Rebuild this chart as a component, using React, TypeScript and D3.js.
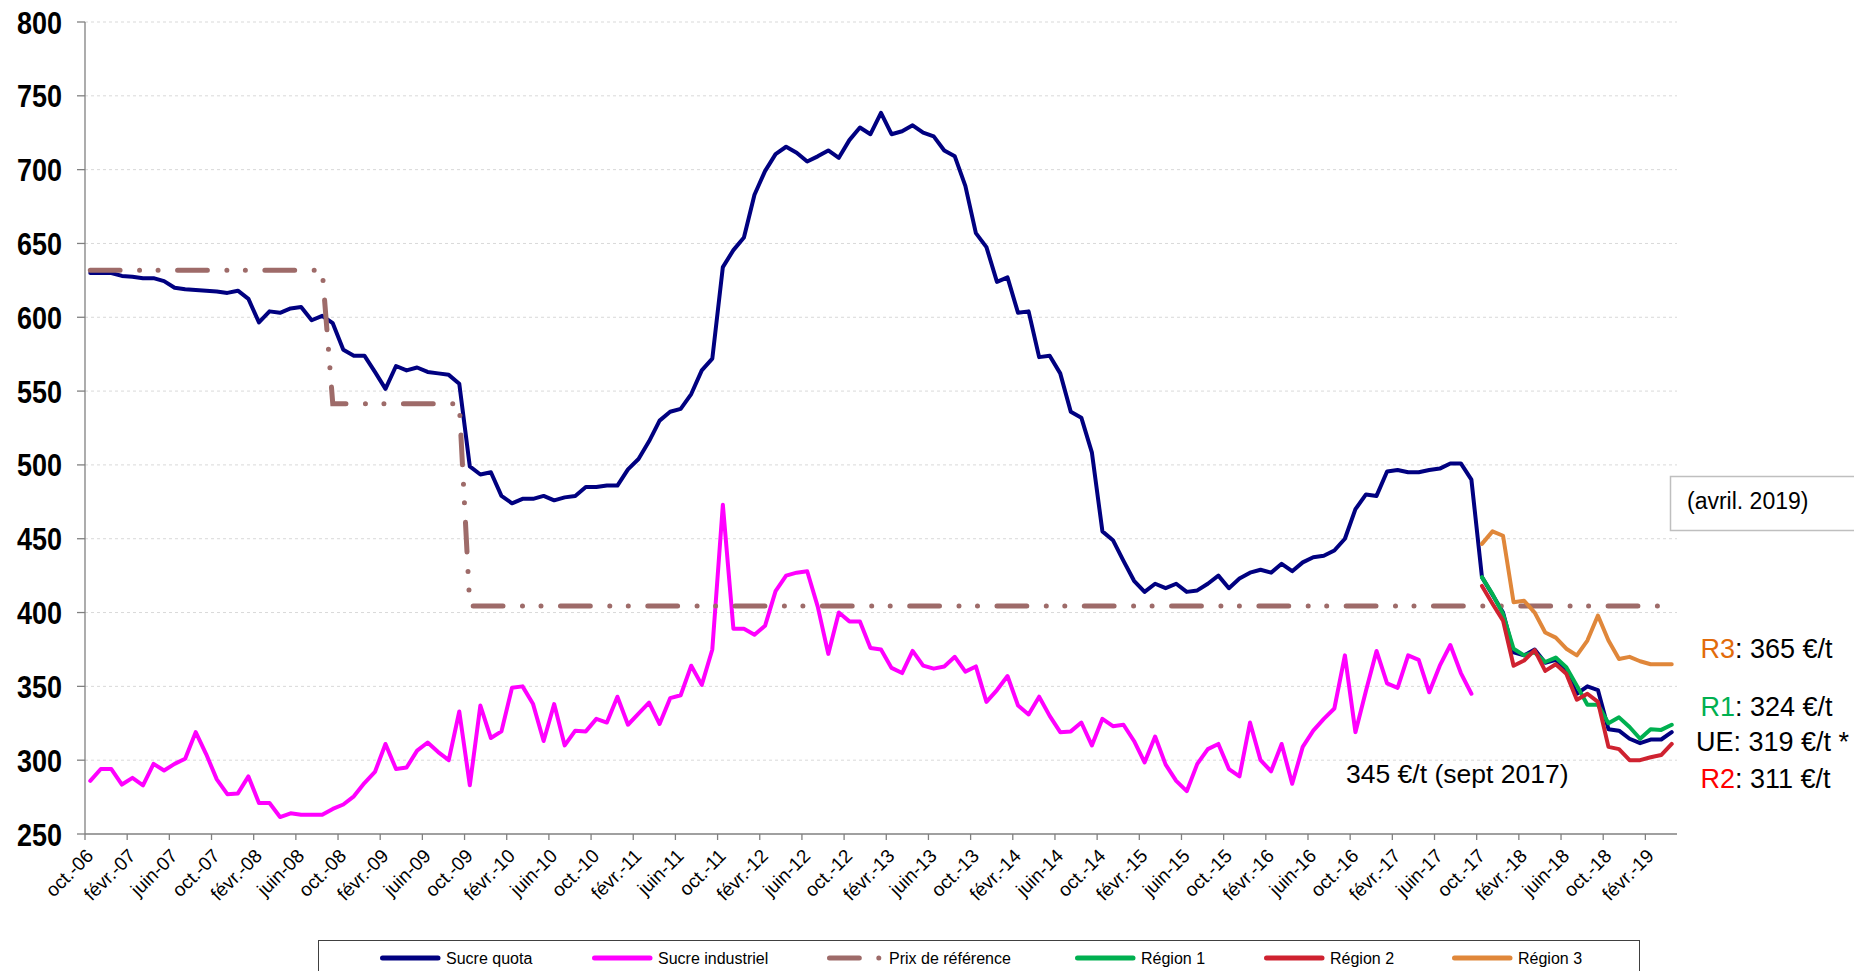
import React from 'react';
import * as d3 from 'd3';

const W = 1854;
const H = 971;

// ---- Categories (monthly, oct. 2006 -> avr. 2019) ----
const monthNames = ['janv.', 'févr.', 'mars', 'avr.', 'mai', 'juin', 'juil.', 'août', 'sept.', 'oct.', 'nov.', 'déc.'];
const firstMonth = { year: 2006, month: 9 }; // oct. 2006
const monthCount = 151; // up to avr. 2019
const categories: string[] = [];
for (let k = 0; k < monthCount; k++) {
  const m = (firstMonth.month + k) % 12;
  const yy = firstMonth.year + Math.floor((firstMonth.month + k) / 12);
  categories.push(`${monthNames[m]}-${String(yy).slice(2)}`);
}

const tickLabels = ['oct.-06', 'févr.-07', 'juin-07', 'oct.-07', 'févr.-08', 'juin-08', 'oct.-08', 'févr.-09', 'juin-09', 'oct.-09', 'févr.-10', 'juin-10', 'oct.-10', 'févr.-11', 'juin-11', 'oct.-11', 'févr.-12', 'juin-12', 'oct.-12', 'févr.-13', 'juin-13', 'oct.-13', 'févr.-14', 'juin-14', 'oct.-14', 'févr.-15', 'juin-15', 'oct.-15', 'févr.-16', 'juin-16', 'oct.-16', 'févr.-17', 'juin-17', 'oct.-17', 'févr.-18', 'juin-18', 'oct.-18', 'févr.-19'];
const yTickValues = [250, 300, 350, 400, 450, 500, 550, 600, 650, 700, 750, 800];

// ---- Series (€/t) ----
const sucreQuota = [
  630, 630, 630, 628, 627.5, 626.5, 626.5, 624.5, 620, 619,
  618.5, 618, 617.5, 616.5, 618, 612.5, 596.5, 604, 603, 606,
  607, 598, 601, 596, 578, 574, 574, 563, 551.5, 567,
  564, 566, 563, 562, 561, 555, 499, 493.5, 495, 479,
  474, 477, 477, 479, 476, 478, 479, 485, 485, 486,
  486, 497, 504, 516, 530, 536, 538, 548, 564, 572,
  634, 645.5, 654, 683, 699, 710.5, 715.5, 711.5, 705.5, 709,
  713, 708, 720, 728.5, 724, 738.5, 724, 726, 730, 725,
  722.5, 713, 709, 689, 657, 647.5, 624, 627, 603, 604,
  573, 574, 562, 536, 532, 508.5, 455, 449, 435, 421.5,
  414, 419.5, 416.5, 419.5, 414, 415, 419.5, 425, 416.5, 423,
  427, 429, 427, 433, 428, 434, 437.5, 438.5, 442, 450,
  470, 480, 479, 495.5, 496.5, 495, 495, 496.5, 497.5, 501,
  501, 490, 424, 412, 400, 373, 371, 375, 366, 368,
  360, 345, 350, 347.5, 321, 320, 314.5, 311.5, 314, 314,
  319,
];

const sucreIndustriel = [
  286, 294, 294, 283.5, 288, 283, 297.5, 293, 297.5, 301,
  319, 304, 287, 277, 277.5, 289, 271, 271, 261.5, 264,
  263, 263, 263, 267, 270, 275.5, 284.5, 292, 311, 294,
  295, 306.5, 312, 305.5, 300, 333, 283, 337, 315, 319.5,
  349, 350, 338, 313, 338, 310, 320, 319.5, 328, 325.5,
  343, 324, 331.5, 339, 324.5, 342, 344, 364, 351, 375,
  473, 389, 389, 385, 391, 414.5, 425, 427, 428, 404,
  372, 400, 394, 394, 376, 375, 362.5, 359, 374, 364,
  362, 363.5, 370, 360, 363.5, 339.5, 347.5, 357, 337, 331,
  343, 330, 319, 319.5, 325.5, 310, 328, 323, 324, 313,
  298.5, 316, 297, 286, 279, 297.5, 307.5, 311, 294, 289,
  325.5, 300, 292.5, 311, 284, 309, 320, 328, 335, 371,
  319, 347, 374, 352, 349, 371, 368, 346, 364, 378,
  359, 345,
];

const prixReference = [
  631.9, 631.9, 631.9, 631.9, 631.9, 631.9, 631.9, 631.9, 631.9, 631.9,
  631.9, 631.9, 631.9, 631.9, 631.9, 631.9, 631.9, 631.9, 631.9, 631.9,
  631.9, 631.9, 631.9, 541.5, 541.5, 541.5, 541.5, 541.5, 541.5, 541.5,
  541.5, 541.5, 541.5, 541.5, 541.5, 541.5, 404.4, 404.4, 404.4, 404.4,
  404.4, 404.4, 404.4, 404.4, 404.4, 404.4, 404.4, 404.4, 404.4, 404.4,
  404.4, 404.4, 404.4, 404.4, 404.4, 404.4, 404.4, 404.4, 404.4, 404.4,
  404.4, 404.4, 404.4, 404.4, 404.4, 404.4, 404.4, 404.4, 404.4, 404.4,
  404.4, 404.4, 404.4, 404.4, 404.4, 404.4, 404.4, 404.4, 404.4, 404.4,
  404.4, 404.4, 404.4, 404.4, 404.4, 404.4, 404.4, 404.4, 404.4, 404.4,
  404.4, 404.4, 404.4, 404.4, 404.4, 404.4, 404.4, 404.4, 404.4, 404.4,
  404.4, 404.4, 404.4, 404.4, 404.4, 404.4, 404.4, 404.4, 404.4, 404.4,
  404.4, 404.4, 404.4, 404.4, 404.4, 404.4, 404.4, 404.4, 404.4, 404.4,
  404.4, 404.4, 404.4, 404.4, 404.4, 404.4, 404.4, 404.4, 404.4, 404.4,
  404.4, 404.4, 404.4, 404.4, 404.4, 404.4, 404.4, 404.4, 404.4, 404.4,
  404.4, 404.4, 404.4, 404.4, 404.4, 404.4, 404.4, 404.4, 404.4, 404.4,
  404.4,
];

// regional series start in oct. 2017
const regionStart = 'oct.-17';
const region1 = [424, 412.5, 399, 375.5, 371, 373, 366.5, 369.5, 363, 350.5, 337.5, 337.5, 325, 329, 322.5, 314.5, 321, 320.5, 324];
const region2 = [418, 406, 394.5, 364, 367.5, 374.5, 360.5, 365, 358.5, 341, 345, 339.5, 309, 307.5, 300, 300, 302, 303.5, 311];
const region3 = [446.5, 455, 452, 407, 408, 400, 386.5, 383, 375.5, 371, 381, 398, 381, 368.5, 370, 367, 365, 365, 365];

// ---- Styles ----
const FONT = '"Liberation Sans", Arial, sans-serif';
const C_QUOTA = '#000080';
const C_INDUS = '#FF00FF';
const C_PRIX = '#9E6B69';
const C_R1 = '#00B050';
const C_R2 = '#CF2230';
const C_R3 = '#E0873A';
const PRIX_DASH = '29.8 19.5 0 18.5 0 19.5';

const plot = { left: 85, right: 1677, top: 22, bottom: 834 };

export default function App() {
  const x = d3.scaleLinear().domain([0, categories.length]).range([plot.left, plot.right]);
  const cx = (i: number) => x(i + 0.5);
  const y = d3.scaleLinear().domain([250, 800]).range([plot.bottom, plot.top]);

  const mkLine = (offset: number) =>
    d3.line<number>().x((_, i) => cx(i + offset)).y((d) => y(d));

  const rStart = categories.indexOf(regionStart);

  const tickIdx = tickLabels.map((l) => categories.indexOf(l));

  const legendItems = [
    { label: 'Sucre quota', color: C_QUOTA, x0: 380, dash: null },
    { label: 'Sucre industriel', color: C_INDUS, x0: 592, dash: null },
    { label: 'Prix de référence', color: C_PRIX, x0: 827, dash: PRIX_DASH },
    { label: 'Région 1', color: C_R1, x0: 1075, dash: null },
    { label: 'Région 2', color: C_R2, x0: 1264, dash: null },
    { label: 'Région 3', color: C_R3, x0: 1452, dash: null },
  ];

  return (
    <svg width={W} height={H} style={{ position: 'absolute', left: 0, top: 0, background: '#fff' }} fontFamily={FONT}>
      <rect x={0} y={0} width={W} height={H} fill="#fff" />
      {/* gridlines */}
      {yTickValues.filter((v) => v > 250).map((v) => (
        <line key={'g' + v} x1={plot.left} x2={plot.right} y1={y(v)} y2={y(v)} stroke="#D9D9D9" strokeWidth={1} strokeDasharray="3 3" />
      ))}
      {/* y axis */}
      <line x1={plot.left} x2={plot.left} y1={plot.top} y2={plot.bottom} stroke="#808080" strokeWidth={1.3} />
      {yTickValues.map((v) => (
        <g key={'yt' + v}>
          <line x1={plot.left - 8} x2={plot.left} y1={y(v)} y2={y(v)} stroke="#808080" strokeWidth={1.3} />
          <text x={62} y={y(v) + 11.5} textAnchor="end" fontSize={32} fontWeight="bold" fill="#000" textLength={45} lengthAdjust="spacingAndGlyphs">{v}</text>
        </g>
      ))}
      {/* x axis */}
      <line x1={plot.left} x2={plot.right} y1={plot.bottom} y2={plot.bottom} stroke="#808080" strokeWidth={1.3} />
      {tickIdx.map((ti, k) => (
        <g key={'xt' + k}>
          <line x1={x(ti)} x2={x(ti)} y1={plot.bottom} y2={plot.bottom + 6} stroke="#808080" strokeWidth={1.3} />
          <text transform={`translate(${x(ti) + 9.5},857) rotate(-45)`} textAnchor="end" fontSize={19} fill="#000">{tickLabels[k]}</text>
        </g>
      ))}

      {/* series */}
      <path d={mkLine(0)(sucreQuota) || ''} fill="none" stroke={C_QUOTA} strokeWidth={4} strokeLinejoin="round" strokeLinecap="round" />
      <path d={mkLine(0)(sucreIndustriel) || ''} fill="none" stroke={C_INDUS} strokeWidth={4} strokeLinejoin="round" strokeLinecap="round" />
      <path d={mkLine(0)(prixReference) || ''} fill="none" stroke={C_PRIX} strokeWidth={5} strokeLinecap="round" strokeDasharray={PRIX_DASH} />
      <path d={mkLine(rStart)(region1) || ''} fill="none" stroke={C_R1} strokeWidth={4} strokeLinejoin="round" strokeLinecap="round" />
      <path d={mkLine(rStart)(region2) || ''} fill="none" stroke={C_R2} strokeWidth={4} strokeLinejoin="round" strokeLinecap="round" />
      <path d={mkLine(rStart)(region3) || ''} fill="none" stroke={C_R3} strokeWidth={4} strokeLinejoin="round" strokeLinecap="round" />

      {/* annotations */}
      <rect x={1670.5} y={476.5} width={220} height={54} fill="#fff" stroke="#BFBFBF" strokeWidth={1.5} />
      <text x={1687} y={509} fontSize={23} fill="#000">(avril. 2019)</text>
      <text x={1346} y={783} fontSize={26.5} fill="#000">345 €/t (sept 2017)</text>
      <text x={1700.5} y={657.5} fontSize={27}><tspan fill="#E26B0A">R3</tspan><tspan fill="#000">: 365 €/t</tspan></text>
      <text x={1700.5} y={715.5} fontSize={27}><tspan fill={C_R1}>R1</tspan><tspan fill="#000">: 324 €/t</tspan></text>
      <text x={1696} y={751} fontSize={27} fill="#000">UE: 319 €/t *</text>
      <text x={1700.5} y={788} fontSize={27}><tspan fill="#FF0000">R2</tspan><tspan fill="#000">: 311 €/t</tspan></text>

      {/* legend */}
      <rect x={318.5} y={940.5} width={1321} height={50} fill="#fff" stroke="#404040" strokeWidth={1} />
      {legendItems.map((it) => (
        <g key={it.label}>
          <line x1={it.x0 + 2.5} x2={it.x0 + 58} y1={958} y2={958} stroke={it.color} strokeWidth={5} strokeLinecap="round" strokeDasharray={it.dash || undefined} />
          <text x={it.x0 + (it.dash ? 62 : 66)} y={958} dominantBaseline="central" fontSize={16} fill="#000">{it.label}</text>
        </g>
      ))}
    </svg>
  );
}
